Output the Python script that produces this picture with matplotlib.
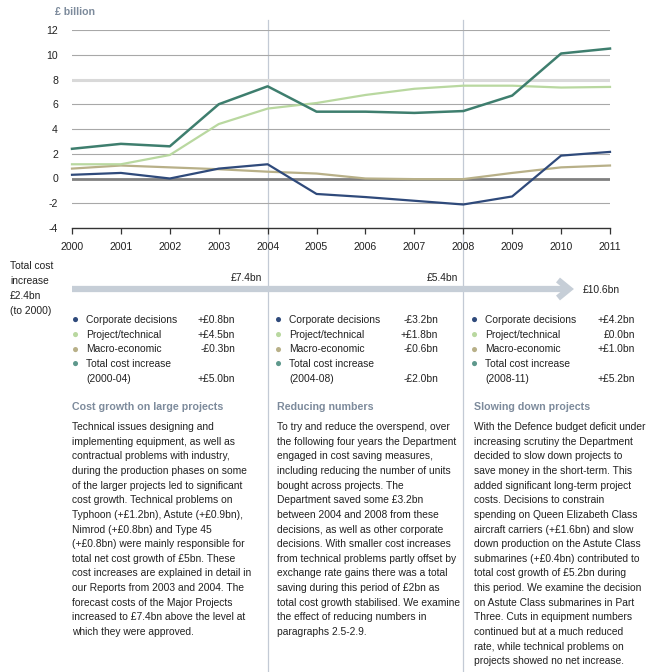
import matplotlib
matplotlib.use('Agg')
import matplotlib.pyplot as plt
from matplotlib.lines import Line2D

plt.rcParams['font.family'] = ['Liberation Sans', 'DejaVu Sans']

years = list(range(2000, 2012))
total = [2.4, 2.8, 2.6, 6.0, 7.45, 5.4, 5.4, 5.3, 5.45, 6.7, 10.1, 10.5]
project = [1.15, 1.15, 1.9, 4.4, 5.65, 6.1, 6.75, 7.25, 7.5, 7.5, 7.35, 7.4]
macro = [0.8, 1.05, 0.9, 0.75, 0.55, 0.4, 0.0, -0.05, -0.05, 0.45, 0.9, 1.05]
corporate = [0.3, 0.45, 0.0, 0.8, 1.15, -1.25, -1.5, -1.8, -2.1, -1.45, 1.85, 2.15]

yticks = [-4, -2, 0, 2, 4, 6, 8, 10, 12]

C_CORP = '#2f4a7b'
C_PROJ = '#b9d8a0'
C_MACRO = '#b8b088'
C_TOTAL = '#3e7e6e'
C_TOTAL_DOT = '#5e988c'
C_HEAD = '#7d8b9c'
C_TEXT = '#222222'
C_VLINE = '#c3cad5'
C_ARROW = '#c6ced7'

periods = ['(2000-04)', '(2004-08)', '(2008-11)']
period_corp = ['+£0.8bn', '-£3.2bn', '+£4.2bn']
period_proj = ['+£4.5bn', '+£1.8bn', '£0.0bn']
period_macro = ['-£0.3bn', '-£0.6bn', '+£1.0bn']
period_total = ['+£5.0bn', '-£2.0bn', '+£5.2bn']
milestones = ['£7.4bn', '£5.4bn', '£10.6bn']

headings = ['Cost growth on large projects', 'Reducing numbers', 'Slowing down projects']
bodies = [
    ["Technical issues designing and",
     "implementing equipment, as well as",
     "contractual problems with industry,",
     "during the production phases on some",
     "of the larger projects led to significant",
     "cost growth. Technical problems on",
     "Typhoon (+£1.2bn), Astute (+£0.9bn),",
     "Nimrod (+£0.8bn) and Type 45",
     "(+£0.8bn) were mainly responsible for",
     "total net cost growth of £5bn. These",
     "cost increases are explained in detail in",
     "our Reports from 2003 and 2004. The",
     "forecast costs of the Major Projects",
     "increased to £7.4bn above the level at",
     "which they were approved."],
    ["To try and reduce the overspend, over",
     "the following four years the Department",
     "engaged in cost saving measures,",
     "including reducing the number of units",
     "bought across projects. The",
     "Department saved some £3.2bn",
     "between 2004 and 2008 from these",
     "decisions, as well as other corporate",
     "decisions. With smaller cost increases",
     "from technical problems partly offset by",
     "exchange rate gains there was a total",
     "saving during this period of £2bn as",
     "total cost growth stabilised. We examine",
     "the effect of reducing numbers in",
     "paragraphs 2.5-2.9."],
    ["With the Defence budget deficit under",
     "increasing scrutiny the Department",
     "decided to slow down projects to",
     "save money in the short-term. This",
     "added significant long-term project",
     "costs. Decisions to constrain",
     "spending on Queen Elizabeth Class",
     "aircraft carriers (+£1.6bn) and slow",
     "down production on the Astute Class",
     "submarines (+£0.4bn) contributed to",
     "total cost growth of £5.2bn during",
     "this period. We examine the decision",
     "on Astute Class submarines in Part",
     "Three. Cuts in equipment numbers",
     "continued but at a much reduced",
     "rate, while technical problems on",
     "projects showed no net increase."],
]

W, H = 666, 672
FS = 7.35


def fx(px):
    return px / W


def fy(py):
    return 1 - py / H


fig = plt.figure(figsize=(W / 100, H / 100), dpi=100)
ax = fig.add_axes([fx(72), fy(228), (610 - 72) / W, (228 - 30) / H])

for v in yticks:
    if v == 0:
        ax.axhline(v, color='#808080', lw=2.0, zorder=1)
    elif v == 8:
        ax.axhline(v, color='#d9d9d9', lw=2.2, zorder=1)
    elif v == -4:
        pass
    else:
        ax.axhline(v, color='#a8a8a8', lw=0.8, zorder=1)

for yr in (2004, 2008):
    ax.axvline(yr, ymin=-2.25, ymax=1.05, color=C_VLINE, lw=0.9, clip_on=False, zorder=0)

ax.plot(years, macro, color=C_MACRO, lw=1.6, zorder=3, clip_on=False)
ax.plot(years, project, color=C_PROJ, lw=1.6, zorder=3, clip_on=False)
ax.plot(years, corporate, color=C_CORP, lw=1.6, zorder=4, clip_on=False)
ax.plot(years, total, color=C_TOTAL, lw=1.8, zorder=4, clip_on=False)

ax.set_xlim(2000, 2011)
ax.set_ylim(-4, 12)
for s in ['top', 'right', 'left']:
    ax.spines[s].set_visible(False)
ax.spines['bottom'].set_color('#333333')
ax.spines['bottom'].set_linewidth(1.0)
ax.set_xticks(years)
ax.set_xticklabels([str(y) for y in years])
ax.set_yticks(yticks)
ax.set_yticklabels([str(v) for v in yticks])
ax.tick_params(axis='x', direction='out', length=4, width=0.9, color='#333333',
               labelsize=7.6, labelcolor=C_TEXT, pad=6)
ax.tick_params(axis='y', length=0, labelsize=7.6, labelcolor=C_TEXT, pad=10)

fig.text(fx(55), fy(12), '£ billion', fontsize=7.6, fontweight='bold', color=C_HEAD,
         ha='left', va='center')

# cumulative total arrow
fig.add_artist(Line2D([fx(72), fx(568)], [fy(289), fy(289)], color=C_ARROW, lw=4.5,
                      solid_capstyle='butt'))
fig.add_artist(Line2D([fx(558), fx(569), fx(558)], [fy(280), fy(289), fy(298)],
                      color=C_ARROW, lw=4.5, solid_joinstyle='miter', solid_capstyle='butt'))

for i, t in enumerate(['Total cost', 'increase', '£2.4bn', '(to 2000)']):
    fig.text(fx(10), fy(266 + 15 * i), t, fontsize=FS, color=C_TEXT, ha='left', va='center')
fig.text(fx(262), fy(278), milestones[0], fontsize=FS, color=C_TEXT, ha='right', va='center')
fig.text(fx(458), fy(278), milestones[1], fontsize=FS, color=C_TEXT, ha='right', va='center')
fig.text(fx(583), fy(290), milestones[2], fontsize=FS, color=C_TEXT, ha='left', va='center')

# period legends
col_x = [76, 279, 475]
val_x = [235, 438, 635]
for k in range(3):
    rows = [
        (C_CORP, 'Corporate decisions', period_corp[k]),
        (C_PROJ, 'Project/technical', period_proj[k]),
        (C_MACRO, 'Macro-economic', period_macro[k]),
        (C_TOTAL_DOT, 'Total cost increase', ''),
        (None, periods[k], period_total[k]),
    ]
    for j, (c, label, val) in enumerate(rows):
        y = 320 + 14.7 * j
        if c is not None:
            fig.text(fx(col_x[k]), fy(y), '●', fontsize=8.5, color=c, ha='center', va='center')
        fig.text(fx(col_x[k] + 10), fy(y), label, fontsize=FS, color=C_TEXT, ha='left', va='center')
        if val:
            fig.text(fx(val_x[k]), fy(y), val, fontsize=FS, color=C_TEXT, ha='right', va='center')

# text columns
text_x = [72, 277, 474]
for k in range(3):
    fig.text(fx(text_x[k]), fy(407), headings[k], fontsize=7.7, fontweight='bold',
             color=C_HEAD, ha='left', va='center')
    for j, line in enumerate(bodies[k]):
        fig.text(fx(text_x[k]), fy(427 + 14.65 * j), line, fontsize=FS, color=C_TEXT,
                 ha='left', va='center')

fig.savefig('out.png', dpi=100)
